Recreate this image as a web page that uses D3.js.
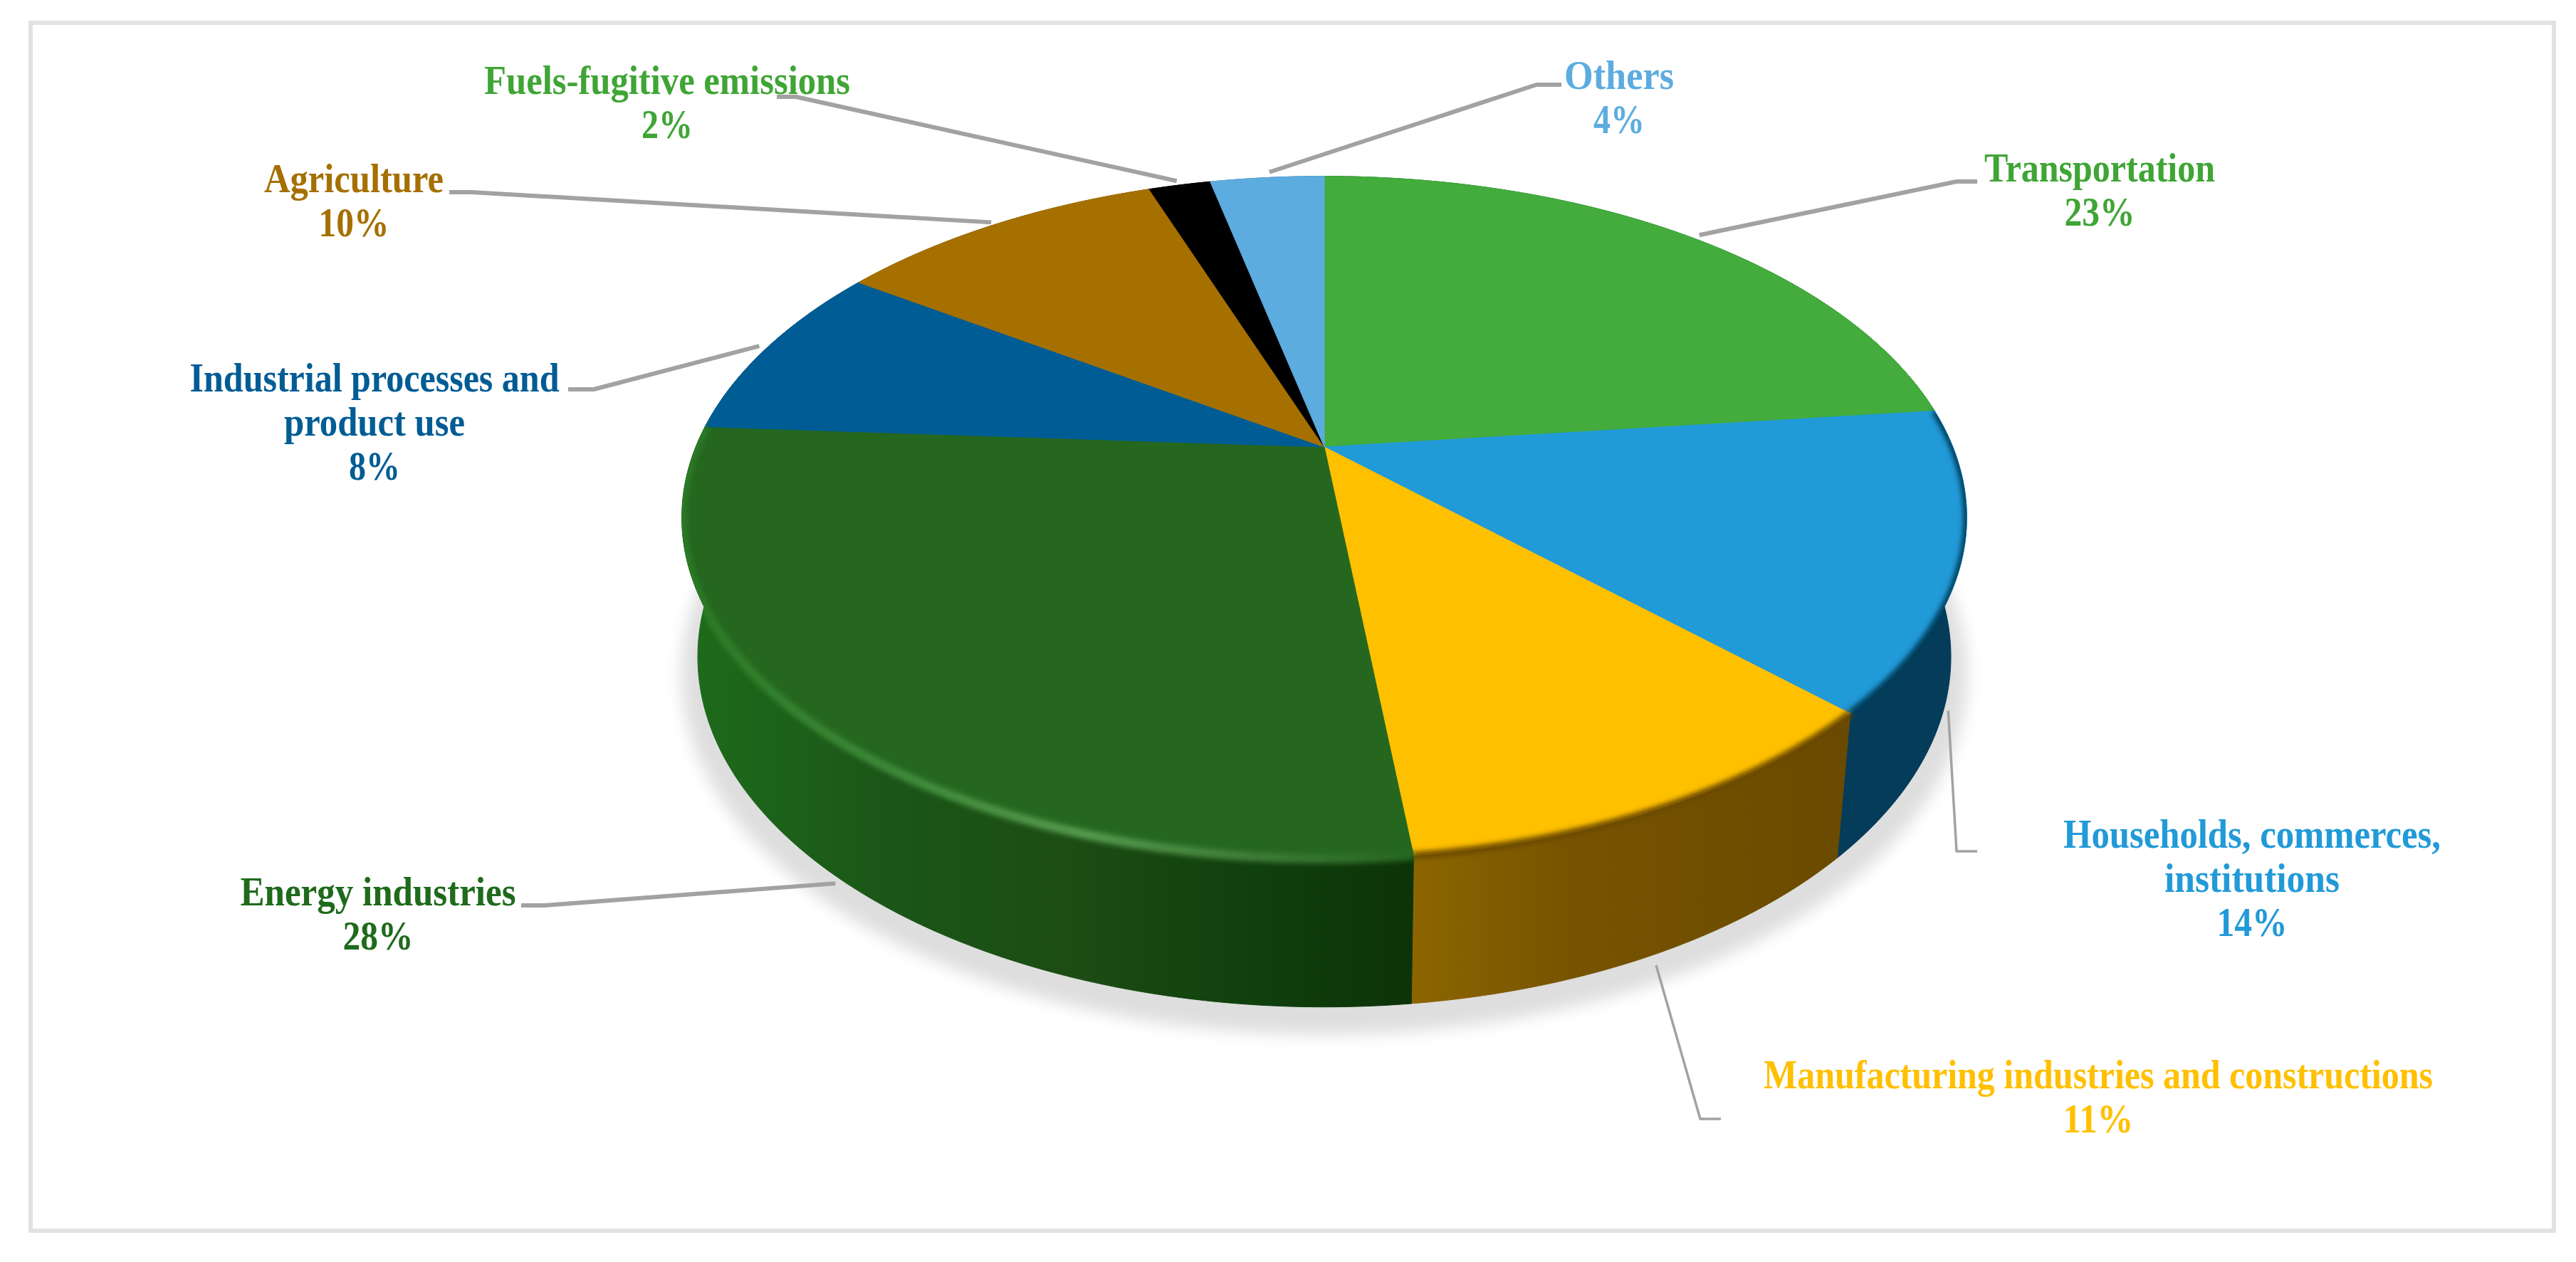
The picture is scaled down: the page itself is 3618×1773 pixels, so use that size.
<!DOCTYPE html>
<html>
<head>
  <meta charset="UTF-8">
  <style>
    body { margin: 0; background: #fff; }
    svg { display: block; }
    .label { font-family: "Liberation Serif", serif; font-weight: bold; font-size: 57px; text-anchor: middle; }
    .leader { fill: none; stroke: #a2a2a2; stroke-linejoin: round; }
  </style>
</head>
<body>
<div id="chart"></div>
<script src="https://d3js.org/d3.v7.min.js"></script>
<script>
// slices, clockwise from 12 o'clock
const categories = ["Transportation", "Households, commerces, institutions", "Manufacturing industries and constructions",
  "Energy industries", "Industrial processes and product use", "Agriculture", "Fuels-fugitive emissions", "Others"];
const shares = [23.2, 14.1, 10.9, 27.8, 8.5, 10.1, 1.9, 3.5];
const shareLabels = ["23%", "14%", "11%", "28%", "8%", "10%", "2%", "4%"];
const topColors = ["#43ac3c", "#219ad8", "#ffc000", "#25671f", "#005c94", "#a57000", "#000000", "#5dacdf"];
const labelColors = ["#3fa535", "#219ad8", "#ffc000", "#1f6a1c", "#005c94", "#a57000", "#3fa535", "#5dacdf"];

const width = 3618, height = 1773;

// tilted disc: a homography from the unit circle to the screen
const cx = 1860, persp = 0.2067;
const topFace = { y0: 628, a: 882.8, b: 459 };
const bottomFace = { y0: 821, a: 861, b: 471 };

function project(angle, face, r = 1) {
  const u = r * Math.sin(angle), v = r * Math.cos(angle);
  const w = 1 + persp * v;
  return [cx + face.a * u / w, face.y0 - face.b * v / w];
}

function arcPoints(a0, a1, face, r = 1) {
  const n = Math.max(2, Math.ceil(Math.abs(a1 - a0) / 0.01));
  return d3.range(n + 1).map(i => project(a0 + (a1 - a0) * i / n, face, r));
}

const line = d3.line();
const pie = d3.pie().sort(null).value(d => d);
const arcs = pie(shares);

const svg = d3.select("#chart").append("svg").attr("width", width).attr("height", height);
const defs = svg.append("defs");

defs.append("filter").attr("id", "shadowBlur").attr("x", "-10%").attr("y", "-10%").attr("width", "120%").attr("height", "120%")
  .append("feGaussianBlur").attr("stdDeviation", 11);
defs.append("filter").attr("id", "rimBlur").attr("filterUnits", "userSpaceOnUse")
  .attr("x", 0).attr("y", 0).attr("width", width).attr("height", height)
  .append("feGaussianBlur").attr("stdDeviation", 3.5);

function hGradient(id, stops, x1, x2) {
  const g = defs.append("linearGradient").attr("id", id).attr("gradientUnits", "userSpaceOnUse")
    .attr("x1", x1).attr("x2", x2).attr("y1", 0).attr("y2", 0);
  stops.forEach(s => g.append("stop").attr("offset", s[0]).attr("stop-color", s[1]));
}

hGradient("wallEnergy", [[0, "#1d6c1b"], [0.3, "#1b5518"], [0.55, "#1c4c13"], [0.8, "#0f3f0c"], [1, "#0d3308"]], 957, 1985);
hGradient("wallManuf", [[0, "#8d6500"], [0.35, "#775400"], [1, "#6a4a00"]], 1985, 2590);
hGradient("rimEnergy", [[0, "#2a7a25"], [0.3, "#3f8a3a"], [0.55, "#559a4e"], [0.8, "#3d7a36"], [1, "#25671f"]], 960, 1985);

const wallFills = ["#0a4a2a", "#043c5a", "url(#wallManuf)", "url(#wallEnergy)", "#003a5e", "#6a4800", "#000", "#2a5f85"];
const rimColors = { 1: "#043c5a", 2: "#6a4a00", 3: "url(#rimEnergy)" };

const wallPath = d => line(arcPoints(d.startAngle, d.endAngle, topFace)
    .concat(arcPoints(d.endAngle, d.startAngle, bottomFace))) + "Z";

// the bevel must stay inside the disc
const clip = defs.append("clipPath").attr("id", "discClip");
clip.append("path").attr("d", line(arcPoints(0, 2 * Math.PI, topFace)) + "Z");
clip.selectAll(null).data(arcs).enter().append("path").attr("d", wallPath);

// frame
svg.append("rect").attr("x", 43).attr("y", 32).attr("width", 3544).attr("height", 1697)
  .attr("fill", "#fff").attr("stroke", "#e2e2e2").attr("stroke-width", 6);

// soft shadow under the disc
svg.append("path")
  .attr("d", line(arcPoints(0, 2 * Math.PI, bottomFace, 1.025)) + "Z")
  .attr("transform", "translate(0,20)")
  .attr("fill", "#dedede")
  .attr("filter", "url(#shadowBlur)");

// side walls
svg.append("g").selectAll("path")
  .data(arcs)
  .join("path")
  .attr("d", wallPath)
  .attr("fill", (d, i) => wallFills[i])
  .attr("stroke", (d, i) => wallFills[i])
  .attr("stroke-width", 1);

// top face
svg.append("g").selectAll("path")
  .data(arcs)
  .join("path")
  .attr("d", d => line([[cx, topFace.y0]].concat(arcPoints(d.startAngle, d.endAngle, topFace))) + "Z")
  .attr("fill", (d, i) => topColors[i])
  .attr("stroke", (d, i) => topColors[i])
  .attr("stroke-width", 1);

// blurred bevel where the top face meets the wall
svg.append("g").attr("clip-path", "url(#discClip)").selectAll("path")
  .data(arcs.filter(d => rimColors[d.index]))
  .join("path")
  .attr("d", d => line(arcPoints(d.startAngle, d.endAngle, topFace)))
  .attr("fill", "none")
  .attr("stroke", d => rimColors[d.index])
  .attr("stroke-width", d => d.index == 3 ? 13 : 10)
  .attr("filter", "url(#rimBlur)");

// leader lines: first point sits at the slice's mid angle, the rest are the elbows
const leaderFace = [topFace, bottomFace, bottomFace, bottomFace, topFace, topFace, topFace, topFace];
const leaderNudge = [[12, 2], [-8, 12], [-6, 8], [21, 13], [-2, -1], [0, 0], [-2, -2], [4, -4]];
const leaderWidths = [6, 3.5, 3.5, 6, 6, 6, 6, 6];
const leaderElbows = [
  [[2748, 255], [2777, 255]],
  [[2748, 1196], [2777, 1196]],
  [[2388, 1572], [2417, 1572]],
  [[765, 1272], [732, 1272]],
  [[834, 547], [798, 547]],
  [[662, 270], [631, 270]],
  [[1118, 136], [1091, 136]],
  [[2158, 119], [2193, 119]]
];

svg.append("g").selectAll("path")
  .data(arcs)
  .join("path")
  .attr("class", "leader")
  .attr("stroke-width", (d, i) => leaderWidths[i])
  .attr("d", (d, i) => {
    const p = project((d.startAngle + d.endAngle) / 2, leaderFace[i], 1.012);
    return line([[p[0] + leaderNudge[i][0], p[1] + leaderNudge[i][1]]].concat(leaderElbows[i]));
  });

// label text, one array per line with its squeezed width
const labelLines = [
  [["Transportation", 324], [shareLabels[0], 99]],
  [["Households, commerces,", 530], ["institutions", 246], [shareLabels[1], 99]],
  [["Manufacturing industries and constructions", 940], [shareLabels[2], 99]],
  [["Energy industries", 387], [shareLabels[3], 99]],
  [["Industrial processes and", 519], ["product use", 254], [shareLabels[4], 72]],
  [["Agriculture", 252], [shareLabels[5], 99]],
  [["Fuels-fugitive emissions", 514], [shareLabels[6], 72]],
  [["Others", 154], [shareLabels[7], 72]]
];
const labelCentres = [2949, 3163, 2947, 531, 526, 497, 937, 2274];
const labelBaselines = [255, 1191, 1529, 1272, 550, 270, 132, 125];
const lineGap = 62;

labelLines.forEach((lines, i) => {
  svg.selectAll(null)
    .data(lines)
    .enter()
    .append("text")
    .attr("class", "label")
    .attr("fill", labelColors[i])
    .attr("x", labelCentres[i])
    .attr("y", (d, j) => labelBaselines[i] + j * lineGap)
    .attr("textLength", d => d[1])
    .attr("lengthAdjust", "spacingAndGlyphs")
    .text(d => d[0]);
});
</script>
</body>
</html>
